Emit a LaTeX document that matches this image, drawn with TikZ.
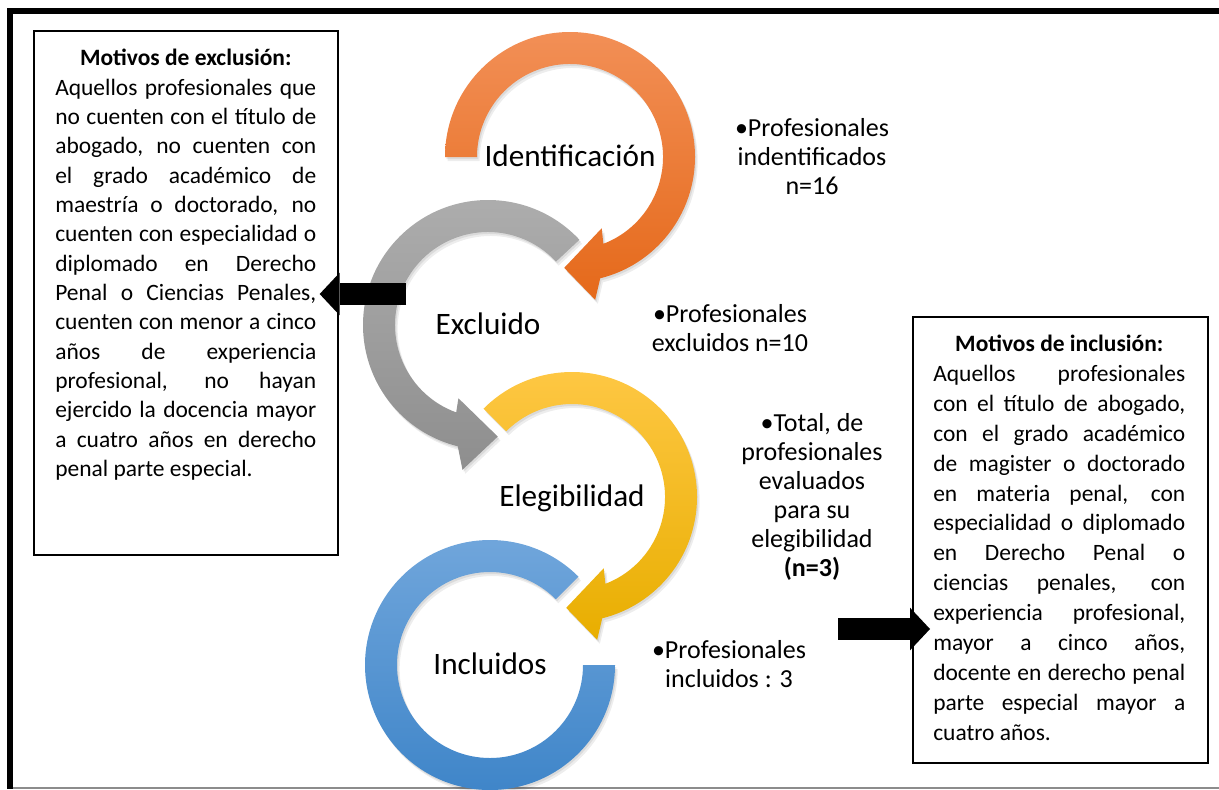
\documentclass[tikz,border=0pt]{standalone}
\usepackage{fontspec}
\setmainfont{Carlito}
\usetikzlibrary{arrows.meta}
\hyphenpenalty=10000
\exhyphenpenalty=10000

\definecolor{orgtop}{HTML}{F28F56}
\definecolor{orgbot}{HTML}{E5691A}
\definecolor{grytop}{HTML}{AEAEAE}
\definecolor{grybot}{HTML}{8E8E8E}
\definecolor{yeltop}{HTML}{FFC846}
\definecolor{yelbot}{HTML}{E8AE00}
\definecolor{blutop}{HTML}{72A7DC}
\definecolor{blubot}{HTML}{3D84C8}

\tikzset{
  ring/.style={preaction={fill=black, opacity=.08, transform canvas={xshift=1pt,yshift=-1.5pt}},
    preaction={fill=black, opacity=.07, transform canvas={xshift=2pt,yshift=-3pt}}},
  ringtxt/.style={font=\fontsize{23.4}{28}\selectfont, text height=14.8pt, text depth=0pt, inner sep=0pt},
  numtxt/.style={align=center, font=\fontsize{19.5}{21.75}\selectfont, inner sep=0pt},
  fbox/.style={draw, line width=1.5pt, fill=white, inner sep=0pt, anchor=north west},
  boxtxt/.style={align=justify, font=\fontsize{17.6}{22}\selectfont, inner sep=0pt, anchor=north west},
  blockarrow/.style={line width=16.5pt, -{Triangle[length=15pt, width=32pt, line width=0pt]}}
}

\begin{document}
\begin{tikzpicture}[x=0.75pt, y=-0.75pt]
\useasboundingbox (0,0) rectangle (1219,789);

% frame
\draw[line width=4.5pt] (1219,11) -- (10,11) -- (10,789);
\draw[black!45, line width=1.2pt] (13,788) -- (1219,788);

% centres of the rings
\coordinate (oc) at (570,157);
\coordinate (gc) at (488,325);
\coordinate (yc) at (572,497);
\coordinate (bc) at (490,665);

% rings
\begin{scope}[shift={(oc)}]
\shade[ring, top color=orgtop, bottom color=orgbot] (-180:125) arc[start angle=-180, end angle=76, radius=125] -- (80:145) -- (93:111) -- (66:78) -- (69:93) arc[start angle=69, end angle=-180, radius=93] -- cycle;
\end{scope}
\begin{scope}[shift={(gc)}]
\shade[ring, top color=grytop, bottom color=grybot] (-43:125) arc[start angle=-43, end angle=-256, radius=125] -- (-260:147) -- (-275:112) -- (-248:79) -- (-250:93) arc[start angle=-250, end angle=-43, radius=93] -- cycle;
\end{scope}
\begin{scope}[shift={(yc)}]
\shade[ring, top color=yeltop, bottom color=yelbot] (-135:125) arc[start angle=-135, end angle=76, radius=125] -- (80:145) -- (93:111) -- (66:78) -- (69:93) arc[start angle=69, end angle=-135, radius=93] -- cycle;
\end{scope}
\begin{scope}[shift={(bc)}]
\shade[ring, top color=blutop, bottom color=blubot] (-45:125) arc[start angle=-45, end angle=-360, radius=125] -- (0:93) arc[start angle=-360, end angle=-45, radius=93] -- cycle;
\end{scope}

\node[ringtxt] (ident) at (oc) {Identificación};
\node[ringtxt] (excl) at (gc) {Excluido};
\node[ringtxt] (elig) at (yc) {Elegibilidad};
\node[ringtxt] (incl) at (bc) {Incluidos};

% counts
\node[numtxt] (nident) at (812,157) {•Profesionales\\indentificados\\n=16};
\node[numtxt] (nexcl) at (730,328) {•Profesionales\\excluidos n=10};
\node[numtxt] (nelig) at (812,497) {•Total, de\\profesionales\\evaluados\\para su\\elegibilidad\\\textbf{(n=3)}};
\node[numtxt] (nincl) at (729,664) {•Profesionales\\incluidos : 3};

% boxes
\node[fbox, minimum width=228pt, minimum height=393pt] (exbox) at (33,30) {};
\node[boxtxt, text width=195.75pt] (extxt) at (55,49) {{\centering\bfseries Motivos de exclusión:\par}
Aquellos profesionales que\linebreak
no cuenten con el título de\linebreak
abogado, no cuenten con\linebreak
el grado académico de\linebreak
maestría o doctorado, no\linebreak
cuenten con especialidad o\linebreak
diplomado en Derecho\linebreak
Penal o Ciencias Penales,\linebreak
cuenten con menor a cinco\linebreak
años de experiencia\linebreak
profesional, no hayan\linebreak
ejercido la docencia mayor\linebreak
a cuatro años en derecho\linebreak
penal parte especial.};

\node[fbox, minimum width=221.25pt, minimum height=334.5pt] (inbox) at (912,316) {};
\node[boxtxt, text width=189pt, font=\fontsize{17.6}{22.4}\selectfont] (intxt) at (933,335) {{\centering\bfseries Motivos de inclusión:\par}
Aquellos profesionales\linebreak
con el título de abogado,\linebreak
con el grado académico\linebreak
de magister o doctorado\linebreak
en materia penal, con\linebreak
especialidad o diplomado\linebreak
en Derecho Penal o\linebreak
ciencias penales, con\linebreak
experiencia profesional,\linebreak
mayor a cinco años,\linebreak
docente en derecho penal\linebreak
parte especial mayor a\linebreak
cuatro años.};

% block arrows
\coordinate (exfrom) at (406,294);
\draw[blockarrow] (exfrom) -- ([xshift=-14.5pt]exfrom -| exbox.east);
\coordinate (infrom) at (838,629);
\draw[blockarrow] (infrom) -- ([xshift=13.5pt]infrom -| inbox.west);
\end{tikzpicture}
\end{document}
